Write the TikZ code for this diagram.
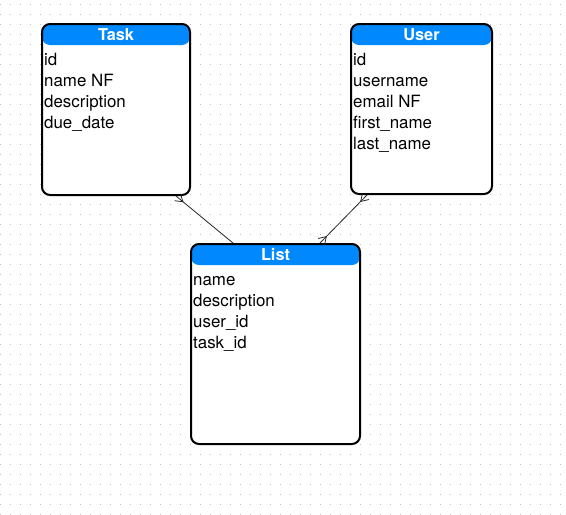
\documentclass[tikz,border=0pt]{standalone}
\usepackage{fontspec}
\setmainfont{TeX Gyre Heros}
\usetikzlibrary{calc}
\definecolor{hdrblue}{RGB}{0,136,255}
\definecolor{griddot}{RGB}{192,192,192}
\newcommand\crowfoot[2]{\draw[conn] ($(#1)!4.9pt!66:(#2)$) -- ($(#1)!9pt!(#2)$) -- ($(#1)!4.9pt!-66:(#2)$);}
\begin{document}
\begin{tikzpicture}[x=1pt,y=-1pt,
  tbl/.style={draw=black, line width=2pt, rounded corners=8pt, fill=white,
    inner sep=0pt, anchor=north west,
    path picture={\fill[hdrblue] (path picture bounding box.north west) rectangle ([yshift=-21pt]path picture bounding box.north east);}},
  ttl/.style={anchor=base, inner sep=0pt, text=white, font=\fontsize{16.3}{19}\selectfont\bfseries},
  fld/.style={anchor=base west, inner sep=0pt, text=black, font=\fontsize{16.9}{20}\selectfont},
  conn/.style={draw=black!85, line width=0.8pt}]
\fill[white] (0,0) rectangle (566,515);
\useasboundingbox (0,0) rectangle (566,515);
\foreach \gx in {0,10,...,560} {
  \foreach \gy in {4,14,...,514} {
    \fill[griddot] (\gx,\gy) rectangle ++(1,1);
  }
}
% Task table
\node[tbl, minimum width=148pt, minimum height=171pt] (task) at (41,23) {};
\node[ttl] (tasktitle) at ($(task.north)+(0,17)$) {Task};
\node[fld] (task1) at ($(task.north west)+(3,42)$) {id};
\node[fld] (task2) at ($(task.north west)+(3,63)$) {name NF};
\node[fld] (task3) at ($(task.north west)+(3,84)$) {description};
\node[fld] (task4) at ($(task.north west)+(3,105)$) {due\_date};
% User table
\node[tbl, minimum width=141pt, minimum height=170pt] (user) at (350,23) {};
\node[ttl] (usertitle) at ($(user.north)+(0,17)$) {User};
\node[fld] (user1) at ($(user.north west)+(3,42)$) {id};
\node[fld] (user2) at ($(user.north west)+(3,63)$) {username};
\node[fld] (user3) at ($(user.north west)+(3,84)$) {email NF};
\node[fld] (user4) at ($(user.north west)+(3,105)$) {first\_name};
\node[fld] (user5) at ($(user.north west)+(3,126)$) {last\_name};
% List table
\node[tbl, minimum width=169pt, minimum height=200pt] (list) at (190,243) {};
\node[ttl] (listtitle) at ($(list.north)+(0,17)$) {List};
\node[fld] (list1) at ($(list.north west)+(3,42)$) {name};
\node[fld] (list2) at ($(list.north west)+(3,63)$) {description};
\node[fld] (list3) at ($(list.north west)+(3,84)$) {user\_id};
\node[fld] (list4) at ($(list.north west)+(3,105)$) {task\_id};
% connectors
\draw[conn] ([xshift=60pt]task.south) coordinate (a1) -- ([xshift=-42.5pt]list.north) coordinate (b1);
\draw[conn] ([xshift=-54.5pt]user.south) coordinate (a2) -- ([xshift=44.5pt]list.north) coordinate (b2);
\crowfoot{a1}{b1}
\crowfoot{a2}{b2}
\crowfoot{b2}{a2}
\end{tikzpicture}
\end{document}
